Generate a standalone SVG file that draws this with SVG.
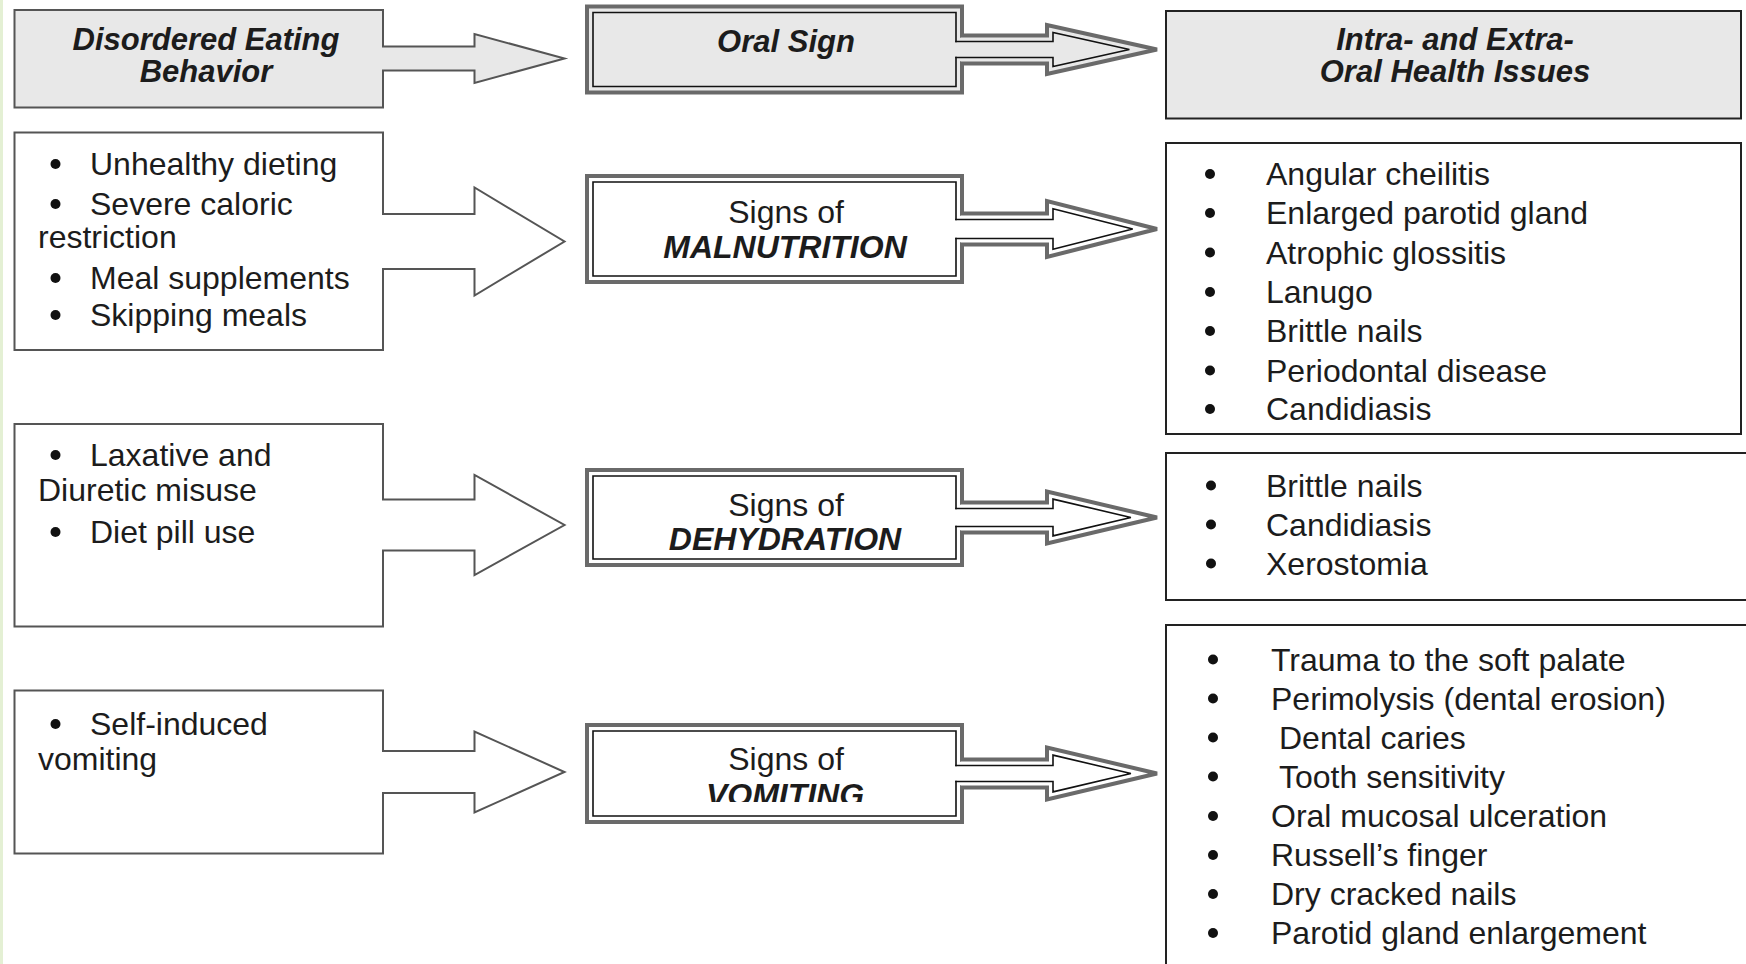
<svg xmlns="http://www.w3.org/2000/svg" width="1746" height="964" viewBox="0 0 1746 964">
<style>
.t{font-family:"Liberation Sans",Arial,sans-serif;font-size:32px;fill:#1c1c1c}
.h{font-weight:bold;font-style:italic;font-size:31px}
.bi{font-weight:bold;font-style:italic}
.c{text-anchor:middle}
.lf{fill:#fff;stroke:none}
.gf{fill:#e8e8e8;stroke:none}
.ls{fill:none;stroke:#555;stroke-width:2;stroke-linecap:square;stroke-linejoin:miter}
.mo{fill:none;stroke:#6a6a6a;stroke-width:4;stroke-linecap:square;stroke-linejoin:miter}
.mi{fill:none;stroke:#111;stroke-width:1.6;stroke-linecap:square;stroke-linejoin:miter}
.rb{fill:#fff;stroke:#222;stroke-width:2}
.rg{fill:#e8e8e8;stroke:#222;stroke-width:2}
.bu{fill:#111}
</style>
<defs>
<clipPath id="clipVom"><rect x="593" y="731" width="363" height="71"/></clipPath>
</defs>
<rect x="0" y="0" width="1746" height="964" fill="#fff"/>
<rect x="0" y="0" width="3" height="964" fill="#e4f0d4"/>

<!-- Left column nodes -->
<g id="behavior-header">
<rect class="gf" x="14.5" y="10" width="368.5" height="97.5"/>
<path class="ls" d="M383,46.5 V10 H14.5 V107.5 H383 V70.5"/>
<text class="t h c" x="206" y="50">Disordered Eating</text>
<text class="t h c" x="206" y="82">Behavior</text>
</g>
<g id="behavior-malnutrition">
<rect class="lf" x="14.5" y="132.5" width="368.5" height="217.5"/>
<path class="ls" d="M383,214 V132.5 H14.5 V350 H383 V269"/>
<circle class="bu" cx="55.5" cy="164" r="5"/>
<text class="t" x="90" y="175">Unhealthy dieting</text>
<circle class="bu" cx="55.5" cy="204" r="5"/>
<text class="t" x="90" y="215">Severe caloric</text>
<text class="t" x="38" y="248">restriction</text>
<circle class="bu" cx="55.5" cy="278" r="5"/>
<text class="t" x="90" y="289">Meal supplements</text>
<circle class="bu" cx="55.5" cy="315" r="5"/>
<text class="t" x="90" y="326">Skipping meals</text>
</g>
<g id="behavior-dehydration">
<rect class="lf" x="14.5" y="424" width="368.5" height="202.5"/>
<path class="ls" d="M383,499.5 V424 H14.5 V626.5 H383 V550.5"/>
<circle class="bu" cx="55.5" cy="455" r="5"/>
<text class="t" x="90" y="466">Laxative and</text>
<text class="t" x="38" y="501">Diuretic misuse</text>
<circle class="bu" cx="55.5" cy="532" r="5"/>
<text class="t" x="90" y="543">Diet pill use</text>
</g>
<g id="behavior-vomiting">
<rect class="lf" x="14.5" y="690.5" width="368.5" height="163"/>
<path class="ls" d="M383,751 V690.5 H14.5 V853.5 H383 V793"/>
<circle class="bu" cx="55.5" cy="724" r="5"/>
<text class="t" x="90" y="735">Self-induced</text>
<text class="t" x="38" y="770">vomiting</text>
</g>

<!-- Middle column nodes -->
<g id="sign-header">
<rect class="gf" x="587" y="6.5" width="375" height="86"/>
<path class="mo" d="M962,35.5 V6.5 H587 V92.5 H962 V63.5"/>
<path class="mi" d="M956,41.5 V12.5 H593 V86.5 H956 V57.5"/>
<text class="t h c" x="786" y="52">Oral Sign</text>
</g>
<g id="sign-malnutrition">
<rect class="lf" x="587" y="176" width="375" height="106"/>
<path class="mo" d="M962,213.5 V176 H587 V282 H962 V244.5"/>
<path class="mi" d="M956,219.5 V182 H593 V276 H956 V238.5"/>
<text class="t c" x="786" y="223">Signs of</text>
<text class="t bi c" x="785" y="258">MALNUTRITION</text>
</g>
<g id="sign-dehydration">
<rect class="lf" x="587" y="470" width="375" height="95"/>
<path class="mo" d="M962,502.5 V470 H587 V565 H962 V532.5"/>
<path class="mi" d="M956,508.5 V476 H593 V559 H956 V526.5"/>
<text class="t c" x="786" y="516">Signs of</text>
<text class="t bi c" x="785" y="550">DEHYDRATION</text>
</g>
<g id="sign-vomiting">
<rect class="lf" x="587" y="725" width="375" height="97"/>
<path class="mo" d="M962,759.5 V725 H587 V822 H962 V787.5"/>
<path class="mi" d="M956,765.5 V731 H593 V816 H956 V781.5"/>
<text class="t c" x="786" y="770">Signs of</text>
<text class="t bi c" x="785" y="806" clip-path="url(#clipVom)">VOMITING</text>
</g>

<!-- Right column nodes -->
<g id="issues-header">
<rect class="rg" x="1166" y="11" width="575" height="107.5"/>
<text class="t h c" x="1455" y="50">Intra- and Extra-</text>
<text class="t h c" x="1455" y="82">Oral Health Issues</text>
</g>
<g id="issues-malnutrition">
<rect class="rb" x="1166" y="143" width="575" height="291"/>
<circle class="bu" cx="1210" cy="174" r="5"/>
<text class="t" x="1266" y="185">Angular cheilitis</text>
<circle class="bu" cx="1210" cy="213" r="5"/>
<text class="t" x="1266" y="224">Enlarged parotid gland</text>
<circle class="bu" cx="1210" cy="252.5" r="5"/>
<text class="t" x="1266" y="263.5">Atrophic glossitis</text>
<circle class="bu" cx="1210" cy="292" r="5"/>
<text class="t" x="1266" y="303">Lanugo</text>
<circle class="bu" cx="1210" cy="331" r="5"/>
<text class="t" x="1266" y="342">Brittle nails</text>
<circle class="bu" cx="1210" cy="370.5" r="5"/>
<text class="t" x="1266" y="381.5">Periodontal disease</text>
<circle class="bu" cx="1210" cy="409" r="5"/>
<text class="t" x="1266" y="420">Candidiasis</text>
</g>
<g id="issues-dehydration">
<rect class="rb" x="1166" y="453" width="600" height="147"/>
<circle class="bu" cx="1211" cy="485.5" r="5"/>
<text class="t" x="1266" y="496.5">Brittle nails</text>
<circle class="bu" cx="1211" cy="524.5" r="5"/>
<text class="t" x="1266" y="535.5">Candidiasis</text>
<circle class="bu" cx="1211" cy="563.5" r="5"/>
<text class="t" x="1266" y="574.5">Xerostomia</text>
</g>
<g id="issues-vomiting">
<rect class="rb" x="1166" y="625" width="600" height="360"/>
<circle class="bu" cx="1213" cy="659.5" r="5"/>
<text class="t" x="1271" y="670.5">Trauma to the soft palate</text>
<circle class="bu" cx="1213" cy="698.5" r="5"/>
<text class="t" x="1271" y="709.5">Perimolysis (dental erosion)</text>
<circle class="bu" cx="1213" cy="737.5" r="5"/>
<text class="t" x="1279" y="748.5">Dental caries</text>
<circle class="bu" cx="1213" cy="776.5" r="5"/>
<text class="t" x="1279" y="787.5">Tooth sensitivity</text>
<circle class="bu" cx="1213" cy="816" r="5"/>
<text class="t" x="1271" y="827">Oral mucosal ulceration</text>
<circle class="bu" cx="1213" cy="855" r="5"/>
<text class="t" x="1271" y="866">Russell’s finger</text>
<circle class="bu" cx="1213" cy="894" r="5"/>
<text class="t" x="1271" y="905">Dry cracked nails</text>
<circle class="bu" cx="1213" cy="933" r="5"/>
<text class="t" x="1271" y="944">Parotid gland enlargement</text>
</g>

<!-- Connectors (arrow parts of the callout shapes) -->
<g id="connectors">
<polygon class="gf" points="382,46.5 474.5,46.5 474.5,34 564.5,58.5 474.5,83 474.5,70.5 382,70.5"/>
<path class="ls" d="M383,46.5 H474.5 V34 L564.5,58.5 L474.5,83 V70.5 H383"/>
<polygon class="lf" points="382,214 474.5,214 474.5,187.5 564.5,241.5 474.5,295.5 474.5,269 382,269"/>
<path class="ls" d="M383,214 H474.5 V187.5 L564.5,241.5 L474.5,295.5 V269 H383"/>
<polygon class="lf" points="382,499.5 474.5,499.5 474.5,475 564.5,525 474.5,575 474.5,550.5 382,550.5"/>
<path class="ls" d="M383,499.5 H474.5 V475 L564.5,525 L474.5,575 V550.5 H383"/>
<polygon class="lf" points="382,751 474.5,751 474.5,731.5 564.5,772 474.5,812.5 474.5,793 382,793"/>
<path class="ls" d="M383,751 H474.5 V731.5 L564.5,772 L474.5,812.5 V793 H383"/>

<polygon class="gf" points="961,35.5 1047,35.5 1047,25 1157,49.5 1047,74 1047,63.5 961,63.5"/>
<path class="mo" d="M962,35.5 H1047 V25 L1157,49.5 L1047,74 V63.5 H962"/>
<path class="mi" d="M956,41.5 H1053 V32.5 L1129.4,49.5 L1053,66.5 V57.5 H956"/>

<polygon class="lf" points="961,213.5 1047,213.5 1047,201 1157,229 1047,257 1047,244.5 961,244.5"/>
<path class="mo" d="M962,213.5 H1047 V201 L1157,229 L1047,257 V244.5 H962"/>
<path class="mi" d="M956,219.5 H1053 V208.7 L1132.7,229 L1053,249.3 V238.5 H956"/>

<polygon class="lf" points="961,502.5 1047,502.5 1047,491.5 1157,517.5 1047,543.5 1047,532.5 961,532.5"/>
<path class="mo" d="M962,502.5 H1047 V491.5 L1157,517.5 L1047,543.5 V532.5 H962"/>
<path class="mi" d="M956,508.5 H1053 V499.1 L1130.9,517.5 L1053,535.9 V526.5 H956"/>

<polygon class="lf" points="961,759.5 1047,759.5 1047,747.5 1157,773.5 1047,799.5 1047,787.5 961,787.5"/>
<path class="mo" d="M962,759.5 H1047 V747.5 L1157,773.5 L1047,799.5 V787.5 H962"/>
<path class="mi" d="M956,765.5 H1053 V755.1 L1130.9,773.5 L1053,791.9 V781.5 H956"/>
</g>
</svg>
